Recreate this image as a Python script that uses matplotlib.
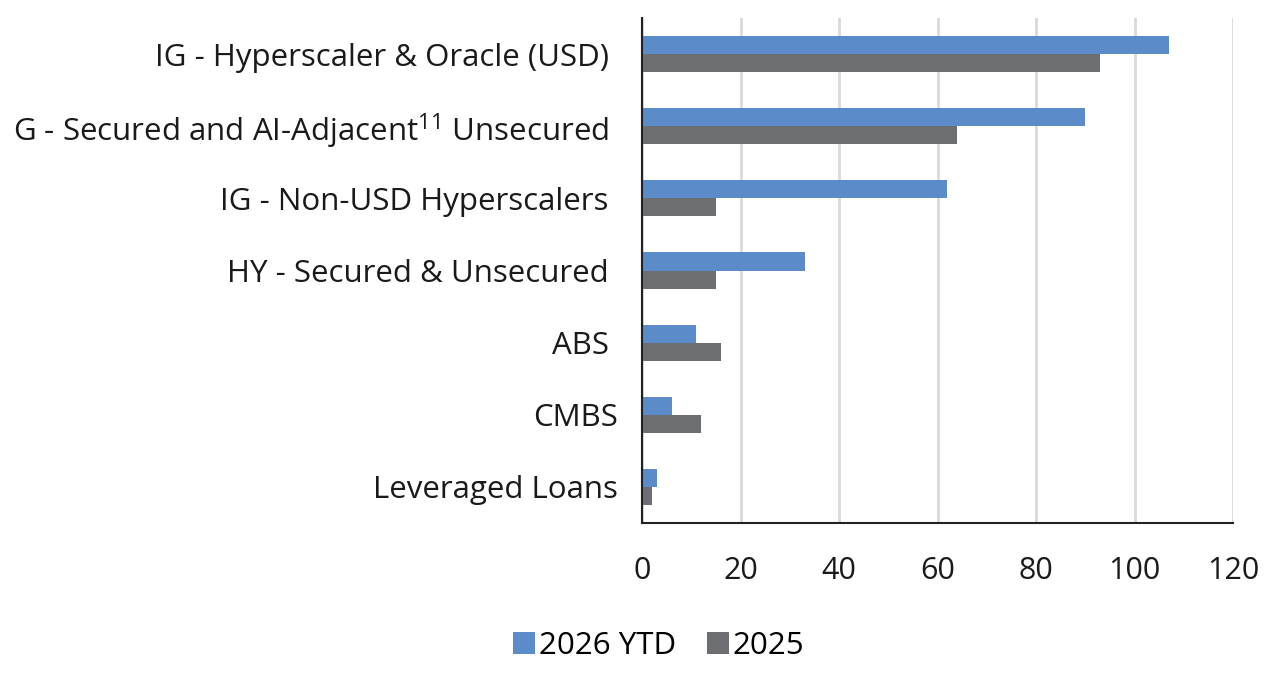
import matplotlib
matplotlib.use("Agg")
import matplotlib.pyplot as plt
import matplotlib.transforms as mtransforms
import numpy as np

# Categories, top to bottom as drawn
categories = [
    "IG - Hyperscaler & Oracle (USD)",
    "G - Secured and AI-Adjacent$^{11}$ Unsecured",
    "IG - Non-USD Hyperscalers",
    "HY - Secured & Unsecured",
    "ABS",
    "CMBS",
    "Leveraged Loans",
]
ytd_2026 = [107, 90, 62, 33, 11, 6, 3]
full_2025 = [93, 64, 15, 15, 16, 12, 2]
series_names = ["2026 YTD", "2025"]
x_ticks = [0, 20, 40, 60, 80, 100, 120]

plt.rcParams["font.family"] = ["Open Sans", "DejaVu Sans"]
plt.rcParams["mathtext.default"] = "regular"

fig = plt.figure(figsize=(12.8, 6.79), dpi=100)
ax = fig.add_axes([642 / 1280, 1 - 523 / 679, (1233 - 642) / 1280, (523 - 18) / 679])

y = np.arange(len(categories))
h = 0.25
ax.barh(y - h / 2, ytd_2026, height=h, color="#5B8BC9", label=series_names[0], zorder=3)
ax.barh(y + h / 2, full_2025, height=h, color="#6D6E71", label=series_names[1], zorder=3)

ax.set_ylim(len(categories) - 0.5, -0.5)
ax.set_yticks(y)
ax.set_yticklabels(categories, fontsize=22.5, color="#1a1a1a")
ax.set_xlim(0, 120)
ax.set_xticks(x_ticks)
ax.set_xticklabels([str(v) for v in x_ticks], fontsize=22, color="#1a1a1a")
ax.tick_params(axis="y", length=0, pad=24)
ax.tick_params(axis="x", length=0, pad=24)

# the last two labels sit a little closer to the axis in the original
shift = mtransforms.ScaledTranslation(0.09, 0, fig.dpi_scale_trans)
for lbl in ax.get_yticklabels()[-2:]:
    lbl.set_transform(lbl.get_transform() + shift)

ax.grid(axis="x", color="#D9D9D9", linewidth=2, zorder=0)
for s in ["top", "right"]:
    ax.spines[s].set_visible(False)
for s in ["left", "bottom"]:
    ax.spines[s].set_color("#222222")
    ax.spines[s].set_linewidth(1.5)
ax.spines["left"].set_zorder(4)

fig.legend(loc="center", bbox_to_anchor=(659 / 1280, 1 - 646 / 679), ncol=2, frameon=False,
           fontsize=22.5, handlelength=0.7, handleheight=0.7, handletextpad=0.12,
           columnspacing=1.0)

fig.savefig("out.png", dpi=100)
